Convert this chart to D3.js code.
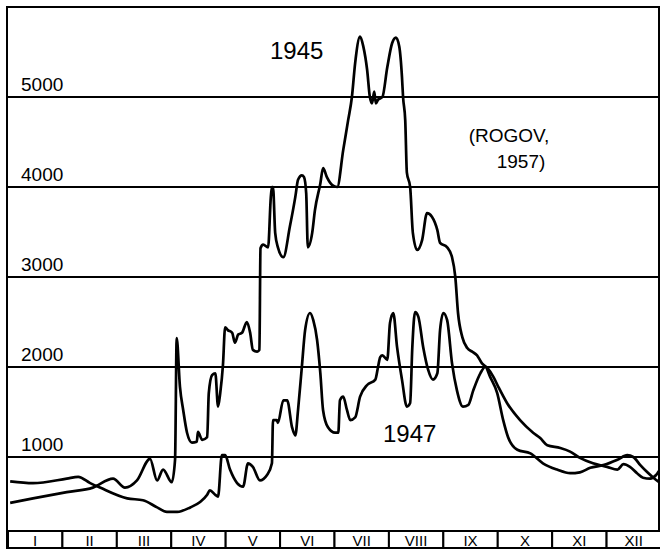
<!DOCTYPE html>
<html>
<head>
<meta charset="utf-8">
<script src="https://cdn.jsdelivr.net/npm/d3@7"></script>
<style>
    body { margin: 0; background: #fff; }
    svg { display: block; font-family: "Liberation Sans", Arial, sans-serif; }
</style>
</head>
<body>
<svg id="chart" width="660" height="551"></svg>
<script>
// month labels along the bottom strip
const months = ['I', 'II', 'III', 'IV', 'V', 'VI', 'VII', 'VIII', 'IX', 'X', 'XI', 'XII'];

// horizontal reference lines (m3/s)
const gridValues = [1000, 2000, 3000, 4000, 5000];

// 1945 hydrograph: position in months from 1 Jan, discharge
const t1945 = [0.04, 0.46, 1.08, 1.56, 1.93, 2.15, 2.37, 2.61, 2.74, 2.85, 3.01, 3.07, 3.10, 3.16, 3.22, 3.29,
    3.38, 3.47, 3.49, 3.57, 3.66, 3.69, 3.75, 3.81, 3.86, 3.90, 3.95, 3.99, 4.04, 4.12, 4.17, 4.23, 4.30, 4.39,
    4.45, 4.50, 4.58, 4.62, 4.64, 4.69, 4.78, 4.83, 4.85, 4.87, 4.91, 4.96, 5.06, 5.18, 5.28, 5.33, 5.40, 5.44,
    5.48, 5.51, 5.59, 5.64, 5.74, 5.79, 5.86, 5.96, 6.05, 6.16, 6.25, 6.32, 6.38, 6.47, 6.53, 6.60, 6.65, 6.69,
    6.73, 6.76, 6.80, 6.88, 6.97, 7.06, 7.13, 7.19, 7.24, 7.26, 7.30, 7.33, 7.39, 7.44, 7.52, 7.61, 7.70, 7.79,
    7.89, 7.94, 8.07, 8.16, 8.22, 8.27, 8.35, 8.44, 8.53, 8.62, 8.71, 8.81, 8.92, 9.01, 9.17, 9.41, 9.65, 9.78,
    9.91, 10.15, 10.33, 10.51, 10.75, 11.01, 11.20, 11.31, 11.43, 11.56, 11.67, 11.80, 11.91, 11.99];
const q1945 = [490, 540, 610, 660, 760, 660, 740, 980, 740, 860, 720, 970, 2320, 1780, 1520, 1270,
    1160, 1170, 1280, 1190, 1220, 1710, 1910, 1930, 1560, 1710, 2020, 2440, 2410, 2380, 2270, 2360, 2380, 2500,
    2380, 2190, 2170, 2190, 3320, 3360, 3330, 3890, 4000, 4000, 3490, 3330, 3220, 3560, 3890, 4080, 4130, 4110,
    3930, 3330, 3490, 3740, 4040, 4210, 4110, 4020, 4000, 4410, 4740, 5000, 5380, 5670, 5560, 5300, 5000, 4930,
    5060, 4930, 4970, 5000, 5330, 5600, 5660, 5560, 5220, 5000, 4740, 4160, 4000, 3490, 3300, 3410, 3710, 3670,
    3520, 3380, 3330, 3220, 3000, 2600, 2330, 2210, 2170, 2130, 2040, 1990, 1890, 1780, 1600, 1410, 1270, 1210,
    1130, 1100, 1060, 990, 930, 890, 860, 920, 890, 820, 770, 760, 800, 870];

// 1947 hydrograph
const t1947 = [0.04, 0.46, 1.08, 1.29, 1.51, 1.69, 2.19, 2.48, 2.74, 2.92, 3.11, 3.35, 3.53, 3.66, 3.71, 3.81,
    3.86, 3.93, 3.99, 4.08, 4.21, 4.32, 4.41, 4.50, 4.63, 4.76, 4.85, 4.87, 4.94, 4.96, 5.06, 5.13, 5.22, 5.28,
    5.33, 5.40, 5.46, 5.55, 5.61, 5.68, 5.74, 5.79, 5.88, 6.01, 6.07, 6.10, 6.16, 6.23, 6.29, 6.38, 6.47, 6.60,
    6.75, 6.80, 6.84, 6.88, 6.97, 7.02, 7.08, 7.15, 7.24, 7.33, 7.39, 7.43, 7.48, 7.54, 7.63, 7.72, 7.81, 7.89,
    7.94, 8.00, 8.07, 8.16, 8.25, 8.36, 8.46, 8.55, 8.68, 8.77, 8.86, 8.99, 9.10, 9.19, 9.36, 9.60, 9.83, 10.09,
    10.33, 10.51, 10.70, 10.94, 11.20, 11.38, 11.49, 11.62, 11.75, 11.86, 11.99];
const q1947 = [730, 710, 760, 780, 710, 660, 540, 520, 440, 390, 390, 440, 500, 580, 630, 580,
    560, 1020, 1020, 860, 710, 670, 930, 890, 740, 800, 930, 1410, 1410, 1380, 1630, 1630, 1330, 1240,
    1520, 2000, 2410, 2600, 2520, 2300, 1930, 1520, 1330, 1270, 1270, 1630, 1670, 1520, 1410, 1440, 1670, 1800,
    1860, 2000, 2110, 2130, 2080, 2490, 2600, 2220, 1860, 1560, 1600, 2220, 2610, 2560, 2220, 1970, 1860, 1930,
    2410, 2600, 2520, 2040, 1740, 1560, 1580, 1740, 1930, 2000, 1890, 1710, 1410, 1220, 1080, 1040, 930, 860,
    820, 830, 880, 910, 970, 1020, 1000, 910, 830, 770, 710];

const svg = d3.select('#chart');

const frame = { left: 7, top: 7, right: 659, bottom: 548 };
const strip = { top: 531, bottom: 548 };

const x = d3.scaleLinear()
    .domain([0, 12])
    .range([8, 661]);

const y = d3.scaleLinear()
    .domain([0, 5000])
    .range([547, 97]);

const band = d3.scaleBand()
    .domain(months)
    .range([8, 661]);

// outer frame
svg.append('rect')
    .attr('x', frame.left)
    .attr('y', frame.top)
    .attr('width', frame.right - frame.left)
    .attr('height', frame.bottom - frame.top)
    .attr('fill', 'none')
    .attr('stroke', '#000')
    .attr('stroke-width', 2);

// horizontal lines with their labels sitting on top
svg.selectAll('line.grid')
    .data(gridValues)
    .enter().append('line')
    .attr('class', 'grid')
    .attr('x1', frame.left)
    .attr('x2', 660)
    .attr('y1', d => y(d))
    .attr('y2', d => y(d))
    .attr('stroke', '#000')
    .attr('stroke-width', 2);

svg.selectAll('text.grid')
    .data(gridValues)
    .enter().append('text')
    .attr('class', 'grid')
    .attr('x', 21)
    .attr('y', d => y(d) - 6)
    .attr('font-size', 19)
    .text(d => d);

// month strip
const cells = svg.selectAll('g.month')
    .data(months)
    .enter().append('g')
    .attr('class', 'month');

cells.append('rect')
    .attr('x', d => band(d))
    .attr('y', strip.top)
    .attr('width', band.bandwidth())
    .attr('height', strip.bottom - strip.top)
    .attr('fill', '#fff')
    .attr('stroke', '#000')
    .attr('stroke-width', 2);

cells.append('text')
    .attr('x', d => band(d) + band.bandwidth() / 2)
    .attr('y', strip.bottom - 2.5)
    .attr('text-anchor', 'middle')
    .attr('font-size', 15)
    .text(d => d);

// the two hydrographs
const line = d3.line()
    .x(d => x(d[0]))
    .y(d => y(d[1]))
    .curve(d3.curveMonotoneX);

[[t1945, q1945], [t1947, q1947]].forEach(function (s) {
    svg.append('path')
        .datum(d3.zip(s[0], s[1]))
        .attr('d', line)
        .attr('fill', 'none')
        .attr('stroke', '#000')
        .attr('stroke-width', 2.7)
        .attr('stroke-linejoin', 'round');
});

// annotations
svg.append('text').attr('x', 270).attr('y', 59).attr('font-size', 24).text('1945');
svg.append('text').attr('x', 383).attr('y', 442).attr('font-size', 24).text('1947');

svg.append('text')
    .attr('x', 509)
    .attr('y', 142)
    .attr('text-anchor', 'middle')
    .attr('font-size', 19)
    .text('(ROGOV,');
svg.append('text')
    .attr('x', 521)
    .attr('y', 168)
    .attr('text-anchor', 'middle')
    .attr('font-size', 19)
    .text('1957)');
</script>
</body>
</html>
